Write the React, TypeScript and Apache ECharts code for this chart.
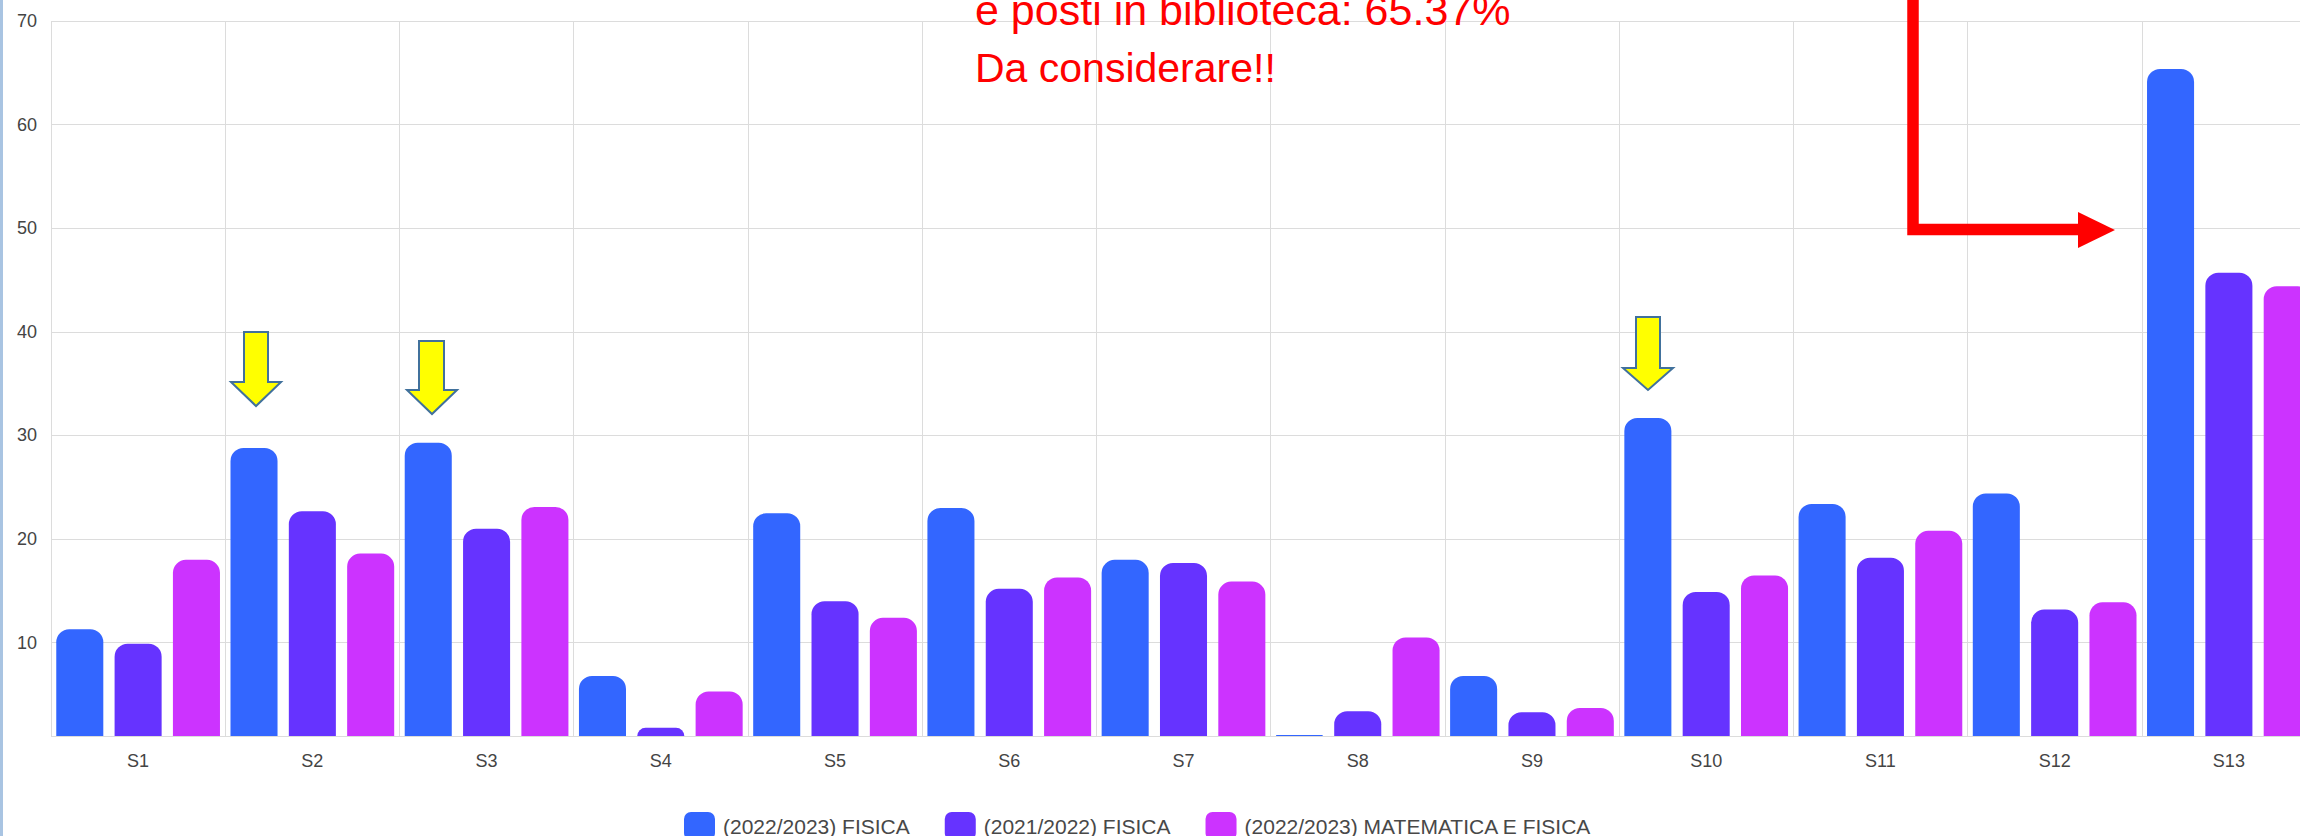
import React, { useEffect, useRef } from 'react';
import * as echarts from 'echarts';

const categories = ['S1', 'S2', 'S3', 'S4', 'S5', 'S6', 'S7', 'S8', 'S9', 'S10', 'S11', 'S12', 'S13'];
const seriesNames = ['(2022/2023) FISICA', '(2021/2022) FISICA', '(2022/2023) MATEMATICA E FISICA'];
const fisica2223 = [11.3, 28.8, 29.3, 6.8, 22.5, 23.0, 18.0, 1.1, 6.8, 31.7, 23.4, 24.4, 65.37];
const fisica2122 = [9.9, 22.7, 21.0, 1.8, 14.0, 15.2, 17.7, 3.4, 3.3, 14.9, 18.2, 13.2, 45.7];
const matFis2223 = [18.0, 18.6, 23.1, 5.3, 12.4, 16.3, 15.9, 10.5, 3.7, 16.5, 20.8, 13.9, 44.4];
const yMin = 1;
const yMax = 70;
const seriesColors = ['#3366ff', '#6633ff', '#cc33ff'];
const noteLine1 = 'e posti in biblioteca: 65.37%';
const noteLine2 = 'Da considerare!!';

const FONT = '"Liberation Sans", Arial, Helvetica, sans-serif';

function yellowArrow(left: number, right: number, top: number, headY: number, headL: number, headR: number, tipY: number) {
  const cx = (headL + headR) / 2;
  return {
    type: 'polygon',
    z: 100,
    shape: {
      points: [
        [left, top], [right, top], [right, headY], [headR, headY], [cx, tipY], [headL, headY], [left, headY],
      ],
    },
    style: { fill: '#ffff00', stroke: '#41719c', lineWidth: 2 },
  };
}

export default function App() {
  const ref = useRef<HTMLDivElement>(null);
  useEffect(() => {
    const chart = echarts.init(ref.current!, null, { renderer: 'svg' });
    const data = [fisica2223, fisica2122, matFis2223];
    chart.setOption({
      animation: false,
      backgroundColor: '#ffffff',
      grid: { left: 51, top: 21, width: 2265, height: 715, containLabel: false, outerBoundsMode: 'none' },
      legend: {
        left: 679,
        top: 807,
        itemWidth: 31,
        itemHeight: 28,
        itemGap: 35,
        icon: 'roundRect',
        textStyle: { fontSize: 21, color: '#484848', fontFamily: FONT, padding: [0, 0, 0, 3] },
        data: seriesNames,
      },
      xAxis: {
        type: 'category',
        data: categories,
        boundaryGap: true,
        axisLine: { show: false },
        axisTick: { show: false },
        axisLabel: { fontSize: 18, color: '#444', fontFamily: FONT, margin: 16 },
        splitLine: { show: true, lineStyle: { color: '#dcdcdc', width: 1 } },
      },
      yAxis: {
        type: 'value',
        min: yMin,
        max: yMax,
        splitNumber: 7,
        axisLine: { show: false },
        axisTick: { show: false },
        axisLabel: {
          fontSize: 18,
          color: '#444',
          fontFamily: FONT,
          margin: 14,
          showMinLabel: false,
          formatter: (v: number) => (Math.abs(v % 10) < 1e-9 ? String(v) : ''),
        },
        splitLine: { show: true, lineStyle: { color: '#dcdcdc', width: 1 } },
      },
      series: seriesNames.map((name, i) => ({
        name,
        type: 'bar',
        data: data[i],
        barWidth: '27%',
        barGap: '24%',
        itemStyle: { color: seriesColors[i], borderRadius: [13, 13, 0, 0] },
      })),
      graphic: [
        { type: 'rect', shape: { x: 0, y: 0, width: 3, height: 836 }, style: { fill: '#a9c4e2' }, z: 100 },
        yellowArrow(244, 268, 332, 382, 231, 281, 406),
        yellowArrow(419, 444, 341, 390, 407, 457, 414),
        yellowArrow(1636, 1660, 317, 368, 1623, 1673, 390),
        {
          type: 'polyline',
          z: 100,
          shape: { points: [[1913, 0], [1913, 229.5], [2080, 229.5]] },
          style: { stroke: '#ff0000', lineWidth: 11.5, fill: null, lineJoin: 'miter', lineCap: 'butt' },
        },
        {
          type: 'polygon',
          z: 100,
          shape: { points: [[2078, 212], [2115, 230], [2078, 248]] },
          style: { fill: '#ff0000' },
        },
        {
          type: 'text',
          z: 100,
          x: 975,
          y: 10,
          style: { text: noteLine1, fill: '#ff0000', fontSize: 43, fontFamily: FONT, align: 'left', verticalAlign: 'middle' },
        },
        {
          type: 'text',
          z: 100,
          x: 975,
          y: 68,
          style: { text: noteLine2, fill: '#ff0000', fontSize: 41, fontFamily: FONT, align: 'left', verticalAlign: 'middle' },
        },
      ],
    });
    return () => chart.dispose();
  }, []);
  return (
    <div style={{ position: 'absolute', left: 0, top: 0, width: 2300, height: 836, overflow: 'hidden', background: '#fff' }}>
      <div ref={ref} style={{ width: 2400, height: 836 }} />
    </div>
  );
}
